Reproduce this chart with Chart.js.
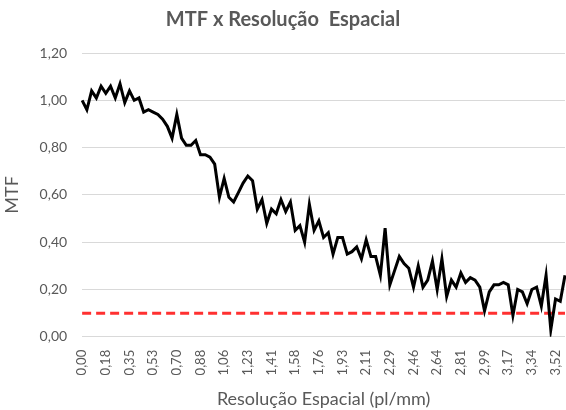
<!DOCTYPE html>
<html>
<head>
<meta charset="utf-8">
<script src="https://cdn.jsdelivr.net/npm/chart.js@4"></script>
<style>
  html, body { margin: 0; padding: 0; background: #fff; }
  #c { display: block; }
</style>
</head>
<body>
<canvas id="c" width="566" height="410"></canvas>
<script>
// Spatial resolution categories (pl/mm), as displayed with 2 decimals
const categories = [
  "0,00","0,04","0,07","0,11","0,14","0,18","0,21","0,25","0,28","0,32",
  "0,35","0,39","0,42","0,46","0,49","0,53","0,56","0,60","0,63","0,67",
  "0,70","0,74","0,77","0,81","0,84","0,88","0,91","0,95","0,98","1,02",
  "1,06","1,09","1,13","1,16","1,20","1,23","1,27","1,30","1,34","1,37",
  "1,41","1,44","1,48","1,51","1,55","1,58","1,62","1,65","1,69","1,72",
  "1,76","1,79","1,83","1,86","1,90","1,93","1,97","2,00","2,04","2,08",
  "2,11","2,15","2,18","2,22","2,25","2,29","2,32","2,36","2,39","2,43",
  "2,46","2,50","2,53","2,57","2,60","2,64","2,67","2,71","2,74","2,78",
  "2,81","2,85","2,88","2,92","2,95","2,99","3,03","3,06","3,10","3,13",
  "3,17","3,20","3,24","3,27","3,31","3,34","3,38","3,41","3,45","3,48",
  "3,52","3,55","3,59"
];

// MTF values
const mtf = [
  1.00, 0.96, 1.04, 1.01, 1.06, 1.03, 1.06, 1.01, 1.07, 0.99,
  1.04, 1.00, 1.01, 0.95, 0.96, 0.95, 0.94, 0.92, 0.89, 0.84,
  0.94, 0.84, 0.81, 0.81, 0.83, 0.77, 0.77, 0.76, 0.73, 0.59,
  0.67, 0.59, 0.57, 0.61, 0.65, 0.68, 0.66, 0.54, 0.58, 0.48,
  0.54, 0.52, 0.58, 0.53, 0.57, 0.45, 0.47, 0.40, 0.56, 0.45,
  0.49, 0.42, 0.44, 0.35, 0.42, 0.42, 0.35, 0.36, 0.38, 0.33,
  0.41, 0.34, 0.34, 0.26, 0.46, 0.22, 0.28, 0.34, 0.31, 0.29,
  0.21, 0.30, 0.21, 0.24, 0.32, 0.20, 0.33, 0.17, 0.24, 0.21,
  0.27, 0.23, 0.25, 0.24, 0.21, 0.11, 0.19, 0.22, 0.22, 0.23,
  0.22, 0.09, 0.20, 0.19, 0.14, 0.20, 0.21, 0.13, 0.26, 0.03,
  0.16, 0.15, 0.26
];

// Threshold level (10 %)
const thresholdValue = 0.10;
const threshold = categories.map(() => thresholdValue);

// Y tick values
const yTicks = [0, 0.2, 0.4, 0.6, 0.8, 1.0, 1.2];

const labelEvery = 5;
const textColor = '#595959';
const fontFamily = "Lato, 'Open Sans', 'Liberation Sans', sans-serif";

new Chart(document.getElementById('c'), {
  type: 'line',
  data: {
    labels: categories,
    datasets: [
      {
        data: mtf,
        borderColor: '#000000',
        borderWidth: 3,
        pointRadius: 0,
        tension: 0,
        fill: false
      },
      {
        data: threshold,
        borderColor: '#FF3030',
        borderWidth: 3,
        borderDash: [9, 5],
        pointRadius: 0,
        tension: 0,
        fill: false
      }
    ]
  },
  options: {
    responsive: false,
    animation: false,
    layout: { padding: { left: 1, right: 1, top: 0, bottom: 0 } },
    plugins: {
      legend: { display: false },
      tooltip: { enabled: false },
      title: {
        display: true,
        text: 'MTF x Resolução  Espacial',
        color: textColor,
        font: { family: fontFamily, size: 20, weight: 'bold' },
        padding: { top: 8, bottom: 21 }
      }
    },
    scales: {
      x: {
        type: 'category',
        offset: false,
        grid: { display: false, drawTicks: false },
        border: { display: false },
        afterFit: function(axis) {
          axis.paddingLeft = 0;
          axis.paddingRight = 0;
        },
        ticks: {
          autoSkip: false,
          maxRotation: 90,
          minRotation: 90,
          padding: 13,
          color: textColor,
          font: { family: fontFamily, size: 13 },
          callback: function(value, index) {
            return index % labelEvery === 0 ? categories[index] : null;
          }
        },
        title: {
          display: true,
          text: 'Resolução Espacial (pl/mm)',
          color: textColor,
          font: { family: fontFamily, size: 18 },
          padding: { top: 0, bottom: 0 }
        }
      },
      y: {
        min: 0,
        max: 1.2,
        afterBuildTicks: function(axis) {
          axis.ticks = yTicks.map(v => ({ value: v }));
        },
        grid: { color: '#D9D9D9', lineWidth: 1, drawTicks: false },
        border: { display: false },
        ticks: {
          padding: 15,
          color: textColor,
          font: { family: fontFamily, size: 14 },
          callback: function(value) {
            return value.toFixed(2).replace('.', ',');
          }
        },
        title: {
          display: true,
          text: 'MTF',
          color: textColor,
          font: { family: fontFamily, size: 18 },
          padding: { top: 0, bottom: 2 }
        }
      }
    }
  }
});
</script>
</body>
</html>
